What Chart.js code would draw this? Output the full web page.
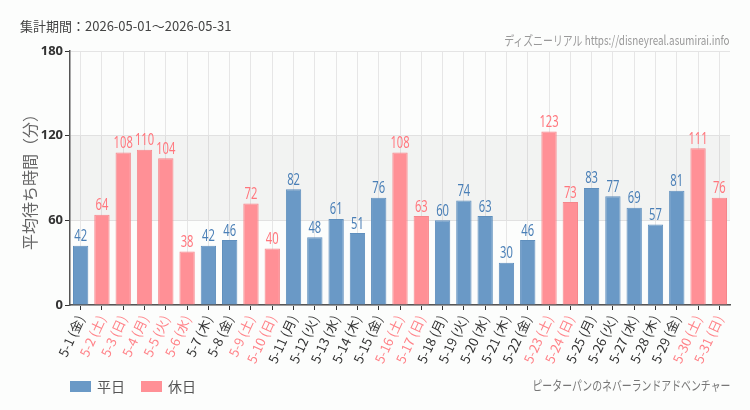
<!DOCTYPE html>
<html>
<head>
<meta charset="utf-8">
<script src="https://cdn.jsdelivr.net/npm/chart.js@4"></script>
<style>
  body { margin: 0; background: #fcfdfc; font-family: "Noto Sans CJK JP", "Noto Sans", sans-serif; }
  #wrap { position: relative; width: 750px; height: 410px; }
  #period { position: absolute; left: 20px; top: 16px; font-size: 13px; color: #444; }
  .narrow { position: absolute; right: 20px; transform-origin: right center; transform: scaleX(0.76); white-space: nowrap; }
  #source { top: 30px; font-size: 13px; color: #999; }
  #attraction { top: 375px; font-size: 13px; color: #777; }
  #legend { position: absolute; left: 70px; top: 376px; font-size: 14px; color: #555; display: flex; align-items: center; }
  #legend span.box { display: inline-block; width: 21px; height: 11px; margin-right: 6px; }
  #legend span.item { display: inline-flex; align-items: center; margin-right: 16px; }
</style>
</head>
<body>
<div id="wrap">
  <canvas id="waitChart" width="750" height="410"></canvas>
  <div id="period">集計期間：2026-05-01～2026-05-31</div>
  <div id="source" class="narrow">ディズニーリアル https://disneyreal.asumirai.info</div>
  <div id="attraction" class="narrow">ピーターパンのネバーランドアドベンチャー</div>
  <div id="legend"></div>
</div>
<script>
document.addEventListener("DOMContentLoaded", () => {
    // 日付ラベル
    const days = ["5-1 (金)", "5-2 (土)", "5-3 (日)", "5-4 (月)", "5-5 (火)", "5-6 (水)", "5-7 (木)",
        "5-8 (金)", "5-9 (土)", "5-10 (日)", "5-11 (月)", "5-12 (火)", "5-13 (水)", "5-14 (木)",
        "5-15 (金)", "5-16 (土)", "5-17 (日)", "5-18 (月)", "5-19 (火)", "5-20 (水)", "5-21 (木)",
        "5-22 (金)", "5-23 (土)", "5-24 (日)", "5-25 (月)", "5-26 (火)", "5-27 (水)", "5-28 (木)",
        "5-29 (金)", "5-30 (土)", "5-31 (日)"];
    // 1 = 休日
    const holiday = [0, 1, 1, 1, 1, 1, 0, 0, 1, 1, 0, 0, 0, 0, 0, 1, 1, 0, 0, 0, 0, 0, 1, 1, 0, 0, 0, 0, 0, 1, 1];
    const waitTimes = [42, 64, 108, 110, 104, 38, 42, 46, 72, 40, 82, 48, 61, 51, 76, 108, 63, 60, 74, 63,
        30, 46, 123, 73, 83, 77, 69, 57, 81, 111, 76];
    const yTicks = [0, 60, 120, 180];

    const weekdayData = waitTimes.map((v, i) => holiday[i] ? null : v);
    const holidayData = waitTimes.map((v, i) => holiday[i] ? v : null);

    const blue = "#6a99c6", pink = "#ff9096";
    const blueText = "#4a7fb6", pinkText = "#ff767d";

    // 60〜120 の帯
    const bandPlugin = {
        id: "band",
        beforeDatasetsDraw(chart) {
            const { ctx, chartArea, scales } = chart;
            const top = scales.y.getPixelForValue(120);
            const bottom = scales.y.getPixelForValue(60);
            ctx.save();
            ctx.fillStyle = "rgba(0,0,0,0.04)";
            ctx.fillRect(chartArea.left, top, chartArea.right - chartArea.left, bottom - top);
            ctx.restore();
        }
    };

    // 値ラベル（横に詰めて描く）
    const valuePlugin = {
        id: "values",
        afterDatasetsDraw(chart) {
            const ctx = chart.ctx;
            ctx.save();
            ctx.font = '16px "Noto Sans", sans-serif';
            ctx.textAlign = "center";
            ctx.textBaseline = "bottom";
            chart.data.datasets.forEach((ds, di) => {
                const meta = chart.getDatasetMeta(di);
                meta.data.forEach((el, i) => {
                    if (ds.data[i] == null) return;
                    ctx.save();
                    ctx.translate(el.x, el.y - 1);
                    ctx.scale(0.7, 1);
                    ctx.fillStyle = di === 0 ? blueText : pinkText;
                    ctx.fillText(ds.data[i], 0, 0);
                    ctx.restore();
                });
            });
            ctx.restore();
        }
    };

    const ctx = document.getElementById("waitChart").getContext("2d");
    const chart = new Chart(ctx, {
        type: "bar",
        data: {
            labels: days,
            datasets: [
                { label: "平日", data: weekdayData, backgroundColor: blue, borderColor: "#5f8fbd", borderWidth: 1 },
                { label: "休日", data: holidayData, backgroundColor: pink, borderColor: "#f5868b", borderWidth: 1 }
            ]
        },
        options: {
            responsive: false,
            animation: false,
            layout: { padding: { left: 20, right: 20, top: 51, bottom: 39 } },
            datasets: { bar: { categoryPercentage: 1, barPercentage: 0.72 } },
            plugins: {
                legend: { display: false },
                tooltip: { enabled: false }
            },
            scales: {
                x: {
                    stacked: true,
                    grid: { offset: false, color: "#e6e6e6", tickColor: "#333", tickLength: 5 },
                    border: { color: "#555", width: 1.5 },
                    ticks: {
                        minRotation: 65, maxRotation: 65, autoSkip: false,
                        color: (c) => holiday[c.index] ? "#ff8288" : "#333",
                        font: { size: 13, family: '"Noto Sans CJK JP", sans-serif' }
                    },
                    afterFit: (s) => { s.height = 66; }
                },
                y: {
                    stacked: true,
                    min: 0, max: 180,
                    afterBuildTicks: (s) => { s.ticks = yTicks.map(v => ({ value: v })); },
                    grid: { color: "#e4e4e4", tickColor: "#333", tickLength: 5 },
                    border: { color: "#555", width: 1.5 },
                    ticks: {
                        color: "#333", padding: 2,
                        font: { size: 13, weight: "bold", family: '"Noto Sans", sans-serif' }
                    },
                    title: {
                        display: true, text: "平均待ち時間（分）", color: "#666",
                        font: { size: 16, family: '"Noto Sans CJK JP", sans-serif' },
                        padding: { top: 0, bottom: 4 }
                    },
                    afterFit: (s) => { s.width = 50; }
                }
            }
        },
        plugins: [bandPlugin, valuePlugin]
    });

    // HTML 凡例
    const legend = document.getElementById("legend");
    chart.data.datasets.forEach(ds => {
        const item = document.createElement("span");
        item.className = "item";
        item.innerHTML = `<span class="box" style="background:${ds.backgroundColor}"></span>${ds.label}`;
        legend.appendChild(item);
    });
});
</script>
</body>
</html>
